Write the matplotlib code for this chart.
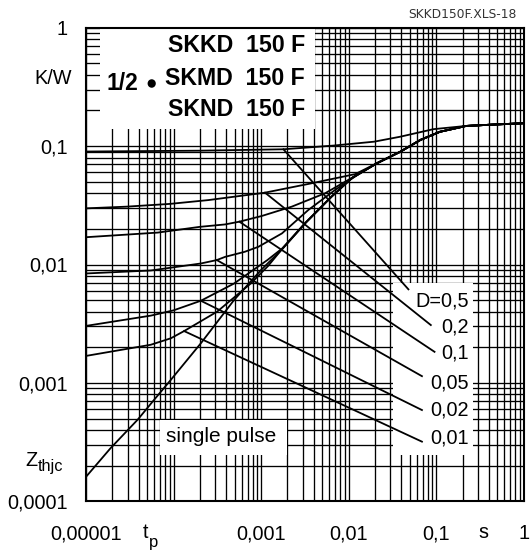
import matplotlib
matplotlib.use("Agg")
import matplotlib.pyplot as plt
from matplotlib.patches import Rectangle, Circle
from matplotlib.ticker import LogLocator, NullFormatter
import numpy as np

plt.rcParams['font.family'] = ['Liberation Sans', 'DejaVu Sans']

# ---------------- data ----------------
# common tail shared by all curves for long pulses
tail_t = [0.021, 0.039, 0.066, 0.11, 0.22, 0.45, 1.0]
tail_z = [0.0716, 0.0897, 0.1127, 0.132, 0.148, 0.152, 0.156]

sp_t = [1e-5, 1.9e-5, 3.9e-5, 6e-5, 9.3e-5, 2.05e-4, 4.9e-4, 1.0e-3, 1.75e-3, 3.2e-3, 6.4e-3, 0.011]
sp_z = [1.61e-4, 2.8e-4, 4.9e-4, 7.2e-4, 1.06e-3, 2.16e-3, 5.0e-3, 9.0e-3, 0.0135, 0.0223, 0.0374, 0.054]

d001_t = [1e-5, 5.5e-5, 9.3e-5, 1.32e-4, 3.15e-4, 7.6e-4, 1.2e-3, 1.75e-3, 3.2e-3, 6.4e-3, 0.011]
d001_z = [1.69e-3, 2.1e-3, 2.38e-3, 2.74e-3, 4.0e-3, 6.9e-3, 9.7e-3, 0.0136, 0.0224, 0.0375, 0.054]

d002_t = [1e-5, 5.5e-5, 1.0e-4, 2.05e-4, 4.9e-4, 1.18e-3, 1.75e-3, 3.2e-3, 6.4e-3, 0.011]
d002_z = [3.03e-3, 3.7e-3, 4.1e-3, 4.94e-3, 6.9e-3, 0.0109, 0.0137, 0.0225, 0.0376, 0.054]

d005_t = [1e-5, 5.5e-5, 2.05e-4, 3.12e-4, 3.88e-4, 6.5e-4, 9.3e-4, 1.73e-3, 3.47e-3, 7.0e-3, 0.0119]
d005_z = [8.4e-3, 8.9e-3, 0.0102, 0.0109, 0.0116, 0.0128, 0.0141, 0.0183, 0.0289, 0.0426, 0.0555]

d01_t = [1e-5, 6.6e-5, 2e-4, 3.88e-4, 5.65e-4, 1.02e-3, 2.24e-3, 5.4e-3, 0.0119]
d01_z = [0.017, 0.0186, 0.0208, 0.0218, 0.023, 0.0257, 0.0308, 0.040, 0.0560]

d02_t = [1e-5, 2.9e-5, 9.1e-5, 2.5e-4, 1.1e-3, 3.47e-3, 0.0119]
d02_z = [0.0298, 0.0308, 0.0325, 0.035, 0.0404, 0.0479, 0.0580]

d05_t = [1e-5, 2e-4, 1.8e-3, 6.7e-3, 0.0196, 0.0388, 0.093, 0.22, 0.45, 1.0]
d05_z = [0.090, 0.0915, 0.094, 0.101, 0.109, 0.12, 0.139, 0.148, 0.152, 0.156]

# leader lines: start on curve -> end near label
lead_labels = ["D=0,5", "0,2", "0,1", "0,05", "0,02", "0,01"]
lead_t0 = [1.8e-3, 1.11e-3, 5.65e-4, 3.12e-4, 2.05e-4, 1.32e-4]
lead_z0 = [0.094, 0.0404, 0.0230, 0.0109, 0.00494, 0.00274]
lead_t1 = [0.0482, 0.0869, 0.0958, 0.0688, 0.0688, 0.0688]
lead_z1 = [0.00617, 0.00308, 0.00183, 0.00114, 5.9e-4, 3.19e-4]
label_z = [0.00492, 0.00295, 0.00178, 0.001004, 5.9e-4, 3.44e-4]

xtick_vals = [1e-5, 1e-4, 1e-3, 1e-2, 1e-1, 1]
xtick_labels = ["0,00001", "", "0,001", "0,01", "0,1", "1"]
ytick_vals = [1e-4, 1e-3, 1e-2, 1e-1, 1]
ytick_labels = ["0,0001", "0,001", "0,01", "0,1", "1"]

# ---------------- figure ----------------
W, H = 531, 551
fig = plt.figure(figsize=(W / 100, H / 100), dpi=100)
ax_l, ax_r, ax_t, ax_b = 86, 523.7, 27.7, 501.3
ax = fig.add_axes([ax_l / W, 1 - ax_b / H, (ax_r - ax_l) / W, (ax_b - ax_t) / H])
ax.set_xscale('log')
ax.set_yscale('log')
ax.set_xlim(1e-5, 1)
ax.set_ylim(1e-4, 1)

ax.xaxis.set_minor_locator(LogLocator(base=10, subs=np.arange(2, 10)))
ax.yaxis.set_minor_locator(LogLocator(base=10, subs=np.arange(2, 10)))
ax.xaxis.set_minor_formatter(NullFormatter())
ax.yaxis.set_minor_formatter(NullFormatter())
ax.set_xticks(xtick_vals, xtick_labels)
ax.set_yticks(ytick_vals, ytick_labels)
ax.tick_params(which='both', length=0)
ax.tick_params(axis='x', pad=16.5, labelsize=14.3)
ax.tick_params(axis='y', pad=13, labelsize=14.3)
ax.set_axisbelow(True)
ax.grid(True, which='both', color='black', lw=0.95)
for s in ax.spines.values():
    s.set_linewidth(1.5)

def box(x0, y0, x1, y1):
    # pixel box -> axes fraction
    fx0 = (x0 - ax_l) / (ax_r - ax_l)
    fx1 = (x1 - ax_l) / (ax_r - ax_l)
    fy0 = 1 - (y1 - ax_t) / (ax_b - ax_t)
    fy1 = 1 - (y0 - ax_t) / (ax_b - ax_t)
    ax.add_patch(Rectangle((fx0, fy0), fx1 - fx0, fy1 - fy0, transform=ax.transAxes,
                           facecolor='white', edgecolor='none', zorder=1))

box(100, 27.7, 315, 129)      # title box
box(393.3, 283.3, 473.3, 455)  # D labels box
box(160, 420, 287.4, 455)      # single pulse box

lw = 1.3
curves = [(sp_t, sp_z), (d001_t, d001_z), (d002_t, d002_z), (d005_t, d005_z),
          (d01_t, d01_z), (d02_t, d02_z)]
for t, z in curves:
    ax.plot(list(t) + tail_t, list(z) + tail_z, color='black', lw=lw, zorder=2,
            solid_joinstyle='round')
ax.plot(d05_t, d05_z, color='black', lw=lw, zorder=2)

for i in range(len(lead_labels)):
    ax.plot([lead_t0[i], lead_t1[i]], [lead_z0[i], lead_z1[i]], color='black', lw=lw, zorder=2)
    ax.text(0.234, label_z[i], lead_labels[i], ha='right', va='center', fontsize=14.3, zorder=3)

# text positions given in pixels -> figure fraction
def ftext(px, py, s, **kw):
    fig.text(px / W, 1 - py / H, s, **kw)

ftext(221, 436, "single pulse", ha='center', va='center', fontsize=15, zorder=3)

ftext(305, 45.5, "SKKD  150 F", ha='right', va='center', fontsize=16.7, fontweight='bold')
ftext(305, 78.3, "SKMD  150 F", ha='right', va='center', fontsize=16.7, fontweight='bold')
ftext(305, 109.5, "SKND  150 F", ha='right', va='center', fontsize=16.7, fontweight='bold')
ftext(106.5, 84, "1/2", ha='left', va='center', fontsize=16.5, fontweight='bold')
fig.add_artist(Circle((151.7 / W, 1 - 83.5 / H), 4.1 / W, transform=fig.transFigure,
                      facecolor='black', edgecolor='none'))

ftext(72, 78, "K/W", ha='right', va='center', fontsize=14.3)
ftext(37.5, 461, "Z", ha='right', va='center', fontsize=14.3)
ftext(37.5, 466, "thjc", ha='left', va='center', fontsize=11.7)
ftext(148.5, 532, "t", ha='right', va='center', fontsize=14.3)
ftext(148.5, 543, "p", ha='left', va='center', fontsize=12)
ftext(483, 533, "s", ha='center', va='center', fontsize=14.3)
ftext(517, 14.7, "SKKD150F.XLS-18", ha='right', va='center', fontsize=8.8,
      family='DejaVu Sans', color='#333333')

fig.savefig("out.png", dpi=100)
